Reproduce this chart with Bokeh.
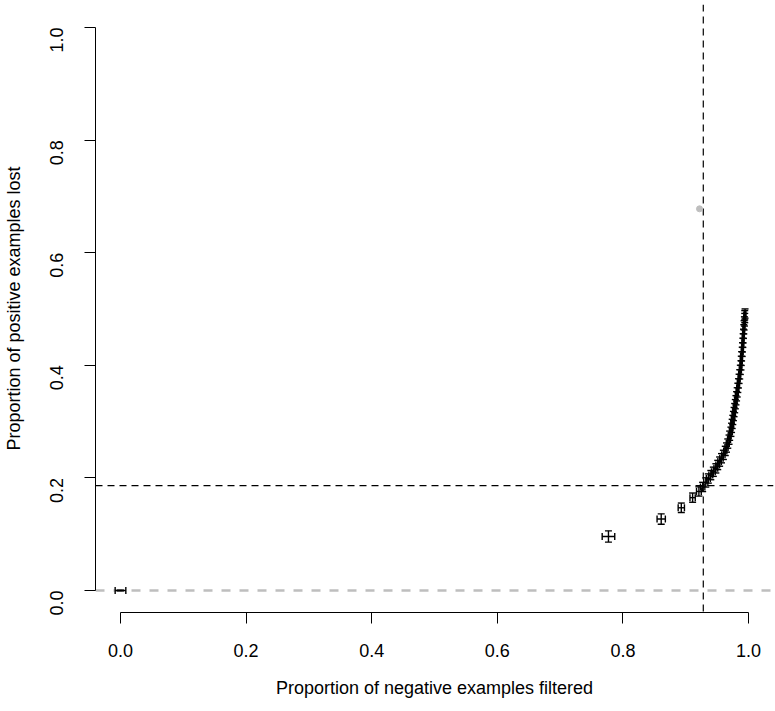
import math
from bokeh.plotting import figure
from bokeh.models import Range1d, Span, FixedTicker, ColumnDataSource
from bokeh.embed import file_html
from bokeh.resources import INLINE

# ---- data ----
neg_filtered = [0.000, 0.777, 0.861, 0.893, 0.911, 0.921, 0.927, 0.932, 0.936, 0.940,
                0.944, 0.948, 0.951, 0.954, 0.957, 0.960, 0.963, 0.965, 0.967, 0.969,
                0.970, 0.972, 0.973, 0.974, 0.975, 0.976, 0.977, 0.978, 0.979, 0.980,
                0.981, 0.982, 0.983, 0.984, 0.985, 0.986, 0.987, 0.988, 0.9885, 0.989,
                0.990, 0.9905, 0.991, 0.9915, 0.992, 0.9925, 0.993, 0.9935, 0.994, 0.994,
                0.9945]
pos_lost = [0.000, 0.096, 0.127, 0.147, 0.165, 0.176, 0.184, 0.192, 0.199, 0.205,
            0.211, 0.217, 0.223, 0.229, 0.235, 0.241, 0.248, 0.254, 0.261, 0.268,
            0.275, 0.282, 0.289, 0.296, 0.303, 0.310, 0.317, 0.324, 0.331, 0.338,
            0.345, 0.352, 0.360, 0.368, 0.376, 0.384, 0.392, 0.400, 0.408, 0.416,
            0.424, 0.432, 0.440, 0.448, 0.456, 0.464, 0.471, 0.478, 0.484, 0.489,
            0.492]
neg_err = [0.0085, 0.0100, 0.0066, 0.0050, 0.0042, 0.0038, 0.0035, 0.0033, 0.0032, 0.0031,
           0.0030, 0.0030, 0.0029, 0.0028, 0.0027, 0.0026, 0.0025, 0.0025, 0.0024, 0.0024,
           0.0023, 0.0023, 0.0022, 0.0022, 0.0021, 0.0021, 0.0020, 0.0020, 0.0020, 0.0019,
           0.0019, 0.0018, 0.0018, 0.0018, 0.0017, 0.0017, 0.0017, 0.0016, 0.0016, 0.0016,
           0.0015, 0.0015, 0.0015, 0.0015, 0.0014, 0.0014, 0.0014, 0.0014, 0.0013, 0.0013,
           0.0013]
pos_err = [0.0005, 0.0100, 0.0092, 0.0084, 0.0082, 0.0082, 0.0082, 0.0082, 0.0082, 0.0082,
           0.0082, 0.0082, 0.0082, 0.0082, 0.0082, 0.0082, 0.0082, 0.0082, 0.0082, 0.0082,
           0.0082, 0.0082, 0.0082, 0.0082, 0.0082, 0.0082, 0.0082, 0.0082, 0.0082, 0.0082,
           0.0082, 0.0082, 0.0082, 0.0082, 0.0082, 0.0082, 0.0082, 0.0082, 0.0082, 0.0082,
           0.0082, 0.0082, 0.0082, 0.0082, 0.0082, 0.0082, 0.0082, 0.0082, 0.0082, 0.0082,
           0.0082]

outlier_x = [0.922]
outlier_y = [0.678]

threshold_x = 0.928
threshold_y = 0.1865
baseline_y = 0.0

ticks = [0.0, 0.2, 0.4, 0.6, 0.8, 1.0]
tick_labels = ["0.0", "0.2", "0.4", "0.6", "0.8", "1.0"]

FONT = "Liberation Sans"

p = figure(width=775, height=711,
           x_range=Range1d(-0.0398, 1.0398), y_range=Range1d(-0.039, 1.0409),
           output_backend="svg", toolbar_location=None,
           min_border_left=95, min_border_right=2, min_border_top=4, min_border_bottom=99)
p.outline_line_color = None
p.xgrid.visible = False
p.ygrid.visible = False
p.background_fill_color = "white"
p.border_fill_color = "white"

for ax in (p.xaxis[0], p.yaxis[0]):
    ax.bounds = (0, 1)
    ax.ticker = FixedTicker(ticks=ticks)
    ax.major_label_overrides = {t: l for t, l in zip(ticks, tick_labels)}
    ax.minor_tick_line_color = None
    ax.major_tick_out = 11
    ax.major_tick_in = 0
    ax.axis_line_color = "black"
    ax.major_tick_line_color = "black"
    ax.major_label_text_font = FONT
    ax.major_label_text_font_size = "18px"
    ax.major_label_text_color = "black"
    ax.axis_label_text_font = FONT
    ax.axis_label_text_font_size = "18px"
    ax.axis_label_text_font_style = "normal"
    ax.axis_label_text_color = "black"

p.xaxis.axis_label = "Proportion of negative examples filtered"
p.yaxis.axis_label = "Proportion of positive examples lost"
p.xaxis.major_label_standoff = 20
p.xaxis.axis_label_standoff = 18
p.yaxis.major_label_orientation = math.pi / 2
p.yaxis.major_label_standoff = 28
p.yaxis.axis_label_standoff = 17

# reference lines (drawn beneath the data)
p.add_layout(Span(location=baseline_y, dimension="width", line_color="#bebebe",
                  line_width=2.5, line_dash="9 9", level="underlay"))
p.add_layout(Span(location=threshold_y, dimension="width", line_color="black",
                  line_width=1.2, line_dash="7 5", level="underlay"))
p.add_layout(Span(location=threshold_x, dimension="height", line_color="black",
                  line_width=1.2, line_dash="7 5", level="underlay"))

# outlier point
p.scatter(outlier_x, outlier_y, size=6, color="#bebebe", line_color="#bebebe")

# error bars
x0 = [x - e for x, e in zip(neg_filtered, neg_err)]
x1 = [x + e for x, e in zip(neg_filtered, neg_err)]
y0 = [y - e for y, e in zip(pos_lost, pos_err)]
y1 = [y + e for y, e in zip(pos_lost, pos_err)]
src = ColumnDataSource(dict(x=neg_filtered, y=pos_lost, x0=x0, x1=x1, y0=y0, y1=y1))
LW = 1.4
p.segment(x0="x0", y0="y", x1="x1", y1="y", source=src, line_color="black", line_width=LW)
p.segment(x0="x", y0="y0", x1="x", y1="y1", source=src, line_color="black", line_width=LW)
p.scatter(x="x", y="y0", source=src, marker="dash", size=7, line_color="black", line_width=LW)
p.scatter(x="x", y="y1", source=src, marker="dash", size=7, line_color="black", line_width=LW)
p.scatter(x="x0", y="y", source=src, marker="dash", size=7, angle=math.pi / 2,
          line_color="black", line_width=LW)
p.scatter(x="x1", y="y", source=src, marker="dash", size=7, angle=math.pi / 2,
          line_color="black", line_width=LW)

open("out.html", "w").write(file_html(p, INLINE))
